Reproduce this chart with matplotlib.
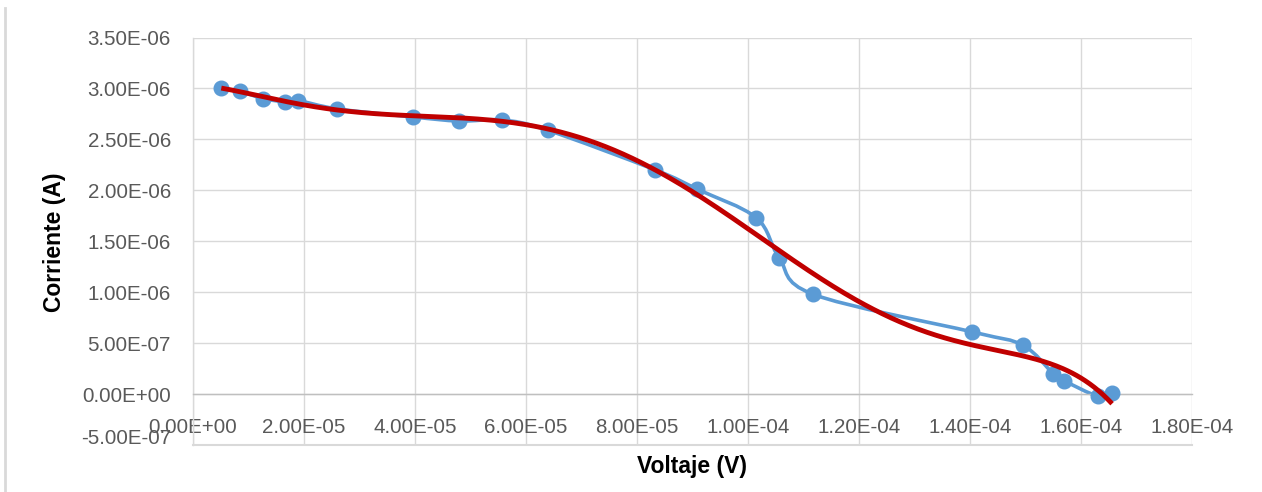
import numpy as np
import matplotlib
matplotlib.use("Agg")
import matplotlib.pyplot as plt
from matplotlib.path import Path
from matplotlib.patches import PathPatch
from matplotlib.ticker import FixedLocator, FuncFormatter
import matplotlib.transforms as mtransforms

# ---- data ----
voltaje = [5.1e-6, 8.5e-6, 1.27e-5, 1.65e-5, 1.90e-5, 2.59e-5, 3.96e-5, 4.80e-5,
           5.57e-5, 6.39e-5, 8.33e-5, 9.09e-5, 1.015e-4, 1.056e-4, 1.117e-4,
           1.404e-4, 1.495e-4, 1.550e-4, 1.570e-4, 1.630e-4, 1.656e-4]
corriente = [3.00e-6, 2.97e-6, 2.90e-6, 2.87e-6, 2.88e-6, 2.80e-6, 2.72e-6, 2.68e-6,
             2.69e-6, 2.59e-6, 2.20e-6, 2.01e-6, 1.73e-6, 1.34e-6, 0.98e-6,
             0.61e-6, 0.48e-6, 0.20e-6, 0.13e-6, -0.02e-6, 0.01e-6]
x_ticks = [0, 2e-5, 4e-5, 6e-5, 8e-5, 1.0e-4, 1.2e-4, 1.4e-4, 1.6e-4, 1.8e-4]
y_ticks = [-5e-7, 0, 5e-7, 1e-6, 1.5e-6, 2e-6, 2.5e-6, 3e-6, 3.5e-6]
trend_degree = 6

x_title = "Voltaje (V)"
y_title = "Corriente (A)"

BLUE = "#5B9BD5"
RED = "#C00000"
GRID = "#D9D9D9"
TXT = "#595959"

W, H = 1262, 492
fig = plt.figure(figsize=(W / 100, H / 100), dpi=100)
plt.rcParams['font.family'] = ['Liberation Sans', 'DejaVu Sans']

ax = fig.add_axes([193 / W, 1 - 445 / H, (1192 - 193) / W, (445 - 37.5) / H])
ax.set_xlim(0, 1.8e-4)
ax.set_ylim(-5e-7, 3.5e-6)

# grid
ax.xaxis.set_major_locator(FixedLocator(x_ticks))
ax.yaxis.set_major_locator(FixedLocator(y_ticks))
ax.grid(True, color=GRID, linewidth=1.0)
ax.set_axisbelow(True)

for s in ['top', 'right']:
    ax.spines[s].set_visible(False)
ax.spines['left'].set_color(GRID)
ax.spines['left'].set_linewidth(1.0)
ax.spines['bottom'].set_position(('data', 0))
ax.spines['bottom'].set_color("#BFBFBF")
ax.spines['bottom'].set_linewidth(1.0)
# bottom border of plot area
ax.axhline(-5e-7, color=GRID, linewidth=1.5, clip_on=False, zorder=0.5)

def fmt(v, pos=None):
    if v == 0:
        return "0.00E+00"
    m, e = f"{v:.2E}".split("E")
    sign = "-" if int(e) < 0 else "+"
    return f"{m}E{sign}{abs(int(e)):02d}"

ax.xaxis.set_major_formatter(FuncFormatter(fmt))
ax.yaxis.set_major_formatter(FuncFormatter(fmt))
ax.tick_params(axis='both', length=0, labelsize=14.8, labelcolor=TXT)
ax.tick_params(axis='x', pad=17)
ax.tick_params(axis='y', pad=16)

# shift the lowest y label slightly up like the reference
fig.canvas.draw()
for lab in ax.get_yticklabels():
    if lab.get_text().startswith("-5"):
        lab.set_transform(lab.get_transform() +
                          mtransforms.ScaledTranslation(0, 9 / 100, fig.dpi_scale_trans))

# smoothed line (Excel-like Bezier through points)
xs = np.array(voltaje)
ys = np.array(corriente)
n = len(xs)
verts = [(xs[0], ys[0])]
codes = [Path.MOVETO]
for i in range(n - 1):
    p0 = np.array([xs[max(i - 1, 0)], ys[max(i - 1, 0)]])
    p1 = np.array([xs[i], ys[i]])
    p2 = np.array([xs[i + 1], ys[i + 1]])
    p3 = np.array([xs[min(i + 2, n - 1)], ys[min(i + 2, n - 1)]])
    c1 = p1 + (p2 - p0) / 6
    c2 = p2 - (p3 - p1) / 6
    verts += [tuple(c1), tuple(c2), tuple(p2)]
    codes += [Path.CURVE4] * 3
path = Path(verts, codes)
ax.add_patch(PathPatch(path, facecolor='none', edgecolor=BLUE, linewidth=2.6,
                       zorder=2, capstyle='round', joinstyle='round'))
ax.plot(xs, ys, linestyle='none', marker='o', markersize=10.5,
        color=BLUE, zorder=3)

# polynomial trendline
xn = xs / 1e-4
coef = np.polyfit(xn, ys, trend_degree)
xt = np.linspace(xs.min(), xs.max(), 400)
ax.plot(xt, np.polyval(coef, xt / 1e-4), color=RED, linewidth=3.5, zorder=4,
        solid_capstyle='butt')

# axis titles
fig.text(692 / W, 1 - 466 / H, x_title, ha='center', va='center',
         fontsize=16.5, fontweight='bold', color='black')
fig.text(54 / W, 1 - 242 / H, y_title, ha='center', va='center',
         rotation=90, fontsize=16.5, fontweight='bold', color='black')

# chart area left border
fig.add_artist(plt.Line2D([4.5 / W, 4.5 / W], [0, 1 - 8 / H],
                          transform=fig.transFigure, color=GRID, linewidth=2))

fig.savefig("out.png", dpi=100, facecolor='white')
